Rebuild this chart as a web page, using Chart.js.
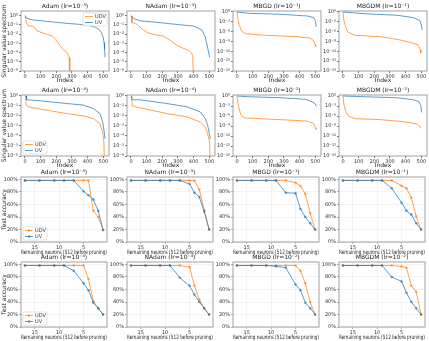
<!DOCTYPE html>
<html>
<head>
<meta charset="utf-8">
<script src="https://cdn.jsdelivr.net/npm/chart.js@4.4.0/dist/chart.umd.min.js"></script>
<style>
  body { margin: 0; background: #fff; width: 429px; height: 341px; position: relative; overflow: hidden; }
  canvas { position: absolute; }
</style>
</head>
<body>
<script>
// ---- data: singular value spectra, [index, value] ----
const indexTicks = [0, 100, 200, 300, 400, 500];
const adamTicks = [1, 1e-1, 1e-2, 1e-3, 1e-4, 1e-5, 1e-6];
const sgdTicks = [1, 1e-3, 1e-6, 1e-9, 1e-12, 1e-15, 1e-18];

const adam3UDV = [[0,1],[4,0.9],[7,0.2],[20,0.08],[55,0.07],[77,0.023],[110,0.014],[143,0.009],[176,0.006],[198,0.0025],[220,0.0007],[242,0.00022],[264,0.00012],[275,0.00006],[282,0.00003],[285,0.000015],[287,1e-7]];
const adam3UV = [[0,1],[10,0.55],[30,0.4],[60,0.33],[120,0.26],[200,0.19],[280,0.14],[360,0.11],[420,0.08],[450,0.055],[475,0.03],[490,0.012],[500,0.004],[505,0.0012],[508,2.5e-4],[511,3e-5]];
const nadam3UDV = [[0,1],[4,0.9],[6,0.18],[36,0.12],[79,0.028],[111,0.013],[164,0.008],[207,0.006],[250,0.0022],[293,0.0006],[335,0.00028],[368,0.00018],[389,0.00008],[395,0.00003],[398,1e-7]];
const nadam3UV = [[0,1],[15,0.5],[58,0.28],[150,0.2],[229,0.145],[320,0.1],[400,0.074],[453,0.028],[474,0.005],[489,0.0004],[502,3e-5]];
const mbgd1UDV = [[0,1],[6,8e-3],[15,8e-5],[31,1.3e-6],[52,2.5e-7],[177,8e-8],[385,3e-8],[469,1e-8],[490,1.6e-9],[500,1e-10],[503,3e-11]];
const mbgd1UV = [[0,1],[73,0.4],[281,0.2],[448,0.06],[490,0.02],[500,0.0025],[506,2.5e-5]];
const mbgdm1UDV = [[0,1],[6,2.5e-3],[17,2.5e-5],[31,8e-7],[73,8e-8],[240,3e-8],[365,3e-9],[448,3e-10],[479,1e-10],[494,3e-12],[497,3e-13]];
const mbgdm1UV = [[0,1],[135,0.3],[344,0.1],[448,0.02],[490,2.5e-3],[500,1e-4],[506,3e-6]];

const adam4UDV = [[0,1],[5,0.95],[7,0.12],[21,0.08],[96,0.047],[266,0.017],[372,0.01],[436,0.0054],[479,0.0017],[496,2.5e-4],[504,2.5e-5],[508,1e-7]];
const adam4UV = [[0,1],[8,0.95],[10,0.4],[96,0.32],[266,0.17],[372,0.12],[436,0.054],[479,0.017],[496,0.0025],[506,2.5e-4],[511,5e-5]];
const nadam4UDV = [[0,1],[4,0.95],[8,0.1],[58,0.063],[229,0.017],[357,0.008],[442,0.0025],[474,8e-4],[489,1.7e-4],[502,2.5e-5],[506,1e-7]];
const nadam4UV = [[0,1],[4,0.95],[8,0.4],[58,0.4],[229,0.17],[357,0.08],[442,0.025],[474,0.0054],[489,0.0013],[502,1.3e-4],[506,5e-5]];
const mbgd2UDV = [[0,1],[6,8e-3],[15,8e-5],[27,1.3e-6],[52,2.5e-7],[281,8e-8],[448,3e-8],[490,6e-9],[500,3e-10],[504,1e-10]];
const mbgd2UV = [[0,1],[73,0.6],[281,0.3],[440,0.1],[479,0.02],[500,0.0045],[506,8e-4]];
const mbgdm2UDV = [[0,1],[6,2.5e-3],[17,4e-5],[31,1.3e-6],[73,1.6e-7],[240,8e-8],[385,2e-8],[469,4e-9],[490,1e-9],[498,2e-10]];
const mbgdm2UV = [[0,1],[135,0.6],[344,0.3],[448,0.08],[485,0.02],[498,8e-4],[502,1.2e-5]];

// ---- data: pruning, test accuracy (%) vs remaining neurons ----
const neurons = [17, 14, 11, 9, 7, 5, 4, 3, 2, 1];
const neuronTicks = [15, 10, 5];
const accTicks = [0, 20, 40, 60, 80, 100];

const adam3AccUDV = [98.5, 98.5, 98.5, 98.5, 98.5, 98.5, 98.5, 50, 40, 20];
const adam3AccUV = [98.5, 98.5, 98.5, 98.5, 98.5, 81, 75, 68, 50, 19];
const nadam3AccUDV = [98.5, 98.5, 98.5, 98.5, 98.5, 98.5, 98, 84, 51, 20];
const nadam3AccUV = [98.5, 98.5, 98.5, 98.5, 98.5, 93, 79, 72, 49, 20];
const mbgd1AccUDV = [98.5, 98.5, 98.5, 98.5, 98.5, 95, 90, 77, 46, 20];
const mbgd1AccUV = [98.5, 98.5, 98.5, 98.5, 79, 78, 53, 40, 30, 20];
const mbgdm1AccUDV = [98.5, 98.5, 98.5, 98.5, 98.5, 90, 86, 71, 41, 20];
const mbgdm1AccUV = [98.5, 98.5, 98.5, 98.5, 86, 63, 50, 44, 30, 20];

const adam4AccUDV = [98.5, 98.5, 98.5, 98.5, 98.5, 98.5, 77, 41, 30, 20];
const adam4AccUV = [98.5, 98.5, 98.5, 98.5, 90, 70, 59, 39, 30, 20];
const nadam4AccUDV = [98.5, 98.5, 98.5, 98.5, 98.5, 96, 66, 44, 30, 20];
const nadam4AccUV = [98.5, 98.5, 98.5, 98.5, 79, 66, 52, 40, 30, 20];
const mbgd2AccUDV = [98.5, 98.5, 98.5, 98.5, 98.5, 98.5, 90, 70, 40, 20];
const mbgd2AccUV = [98.5, 98.5, 98.5, 97, 95, 68, 59, 39, 30, 20];
const mbgdm2AccUDV = [98.5, 98.5, 98.5, 98.5, 98.5, 97, 95, 66, 56, 20];
const mbgdm2AccUV = [98.5, 98.5, 98.5, 98.5, 80, 73, 55, 40, 30, 20];

// ---- look ----
const ORANGE = 'rgba(255,127,14,0.72)';
const BLUE = 'rgba(31,119,180,0.72)';
const FONT = 'DejaVu Sans';
const colLeft = [21, 127, 233, 339];
const rowTop = [11, 95, 177, 262];
const rowH = [60, 61, 65, 65];
const PLOT_W = 88, PAD_L = 21, PAD_R = 2, PAD_T = 10, PAD_B = 15;

const SUP = {'0':'⁰','1':'¹','2':'²','3':'³','4':'⁴','5':'⁵','6':'⁶','7':'⁷','8':'⁸','9':'⁹','-':'⁻'};
const sup = n => String(n).split('').map(c => SUP[c]).join('');
const pow10 = v => '10' + sup(Math.round(Math.log10(v)));

const pts = arr => arr.map(p => ({x: p[0], y: p[1]}));
const pair = (xs, ys) => xs.map((x, i) => ({x: x, y: ys[i]}));

// frame, title and in-axes legend, matplotlib style
const decor = {
  id: 'decor',
  afterDraw(chart, args, o) {
    const ctx = chart.ctx, a = chart.chartArea;
    ctx.save();
    ctx.strokeStyle = '#8a8a8a';
    ctx.lineWidth = 0.8;
    ctx.strokeRect(a.left, a.top, a.right - a.left, a.bottom - a.top);
    ctx.fillStyle = '#222';
    ctx.font = '6px ' + FONT;
    ctx.textAlign = 'center';
    ctx.textBaseline = 'bottom';
    ctx.fillText(o.title, (a.left + a.right) / 2, a.top - 2);
    if (o.legend) {
      const bw = 24, bh = 13;
      const bx = o.legend === 'ur' ? a.right - bw - 2 : a.left + 2;
      const by = o.legend === 'ur' ? a.top + 2 : a.bottom - bh - 2;
      ctx.fillStyle = 'rgba(255,255,255,0.85)';
      ctx.strokeStyle = '#d0d0d0';
      ctx.lineWidth = 0.6;
      ctx.beginPath();
      ctx.roundRect(bx, by, bw, bh, 1.5);
      ctx.fill();
      ctx.stroke();
      const items = [['UDV', ORANGE], ['UV', BLUE]];
      ctx.font = '5px ' + FONT;
      ctx.textAlign = 'left';
      ctx.textBaseline = 'middle';
      items.forEach((it, i) => {
        const y = by + 3.5 + i * 6;
        ctx.strokeStyle = it[1];
        ctx.lineWidth = 1;
        ctx.beginPath();
        ctx.moveTo(bx + 2, y);
        ctx.lineTo(bx + 10, y);
        ctx.stroke();
        if (o.markers) {
          ctx.fillStyle = it[1];
          ctx.beginPath();
          ctx.arc(bx + 6, y, 1.2, 0, Math.PI * 2);
          ctx.fill();
        }
        ctx.fillStyle = '#333';
        ctx.fillText(it[0], bx + 12, y + 0.3);
      });
    }
    ctx.restore();
  }
};

function panel(col, row, cfg) {
  const cv = document.createElement('canvas');
  const h = rowH[row];
  cv.width = PLOT_W + PAD_L + PAD_R;
  cv.height = h + PAD_T + PAD_B;
  cv.style.left = (colLeft[col] - PAD_L) + 'px';
  cv.style.top = (rowTop[row] - PAD_T) + 'px';
  document.body.appendChild(cv);

  const prune = cfg.kind === 'prune';
  const tickFont = {family: FONT, size: 5};
  const titleFont = {family: FONT, size: 6};
  const grid = prune
    ? {color: '#ebebeb', lineWidth: 0.6, tickColor: '#777', tickLength: 2}
    : {drawOnChartArea: false, tickColor: '#777', tickLength: 2};

  const xScale = prune ? {
    type: 'linear', reverse: true, min: 0.2, max: 17.8,
    afterBuildTicks: s => { s.ticks = neuronTicks.map(v => ({value: v})); },
    ticks: {font: tickFont, color: '#333', padding: 1, maxRotation: 0, autoSkip: false},
    title: {display: true, text: 'Remaining neurons (512 before pruning)', font: titleFont, color: '#222', padding: {top: 0, bottom: 1}}
  } : {
    type: 'linear', min: -25.5, max: 536.5,
    afterBuildTicks: s => { s.ticks = indexTicks.map(v => ({value: v})); },
    ticks: {font: tickFont, color: '#333', padding: 1, maxRotation: 0, autoSkip: false},
    title: {display: true, text: 'Index', font: titleFont, color: '#222', padding: {top: 0, bottom: 2}}
  };
  xScale.grid = grid;
  xScale.border = {display: false};
  xScale.afterFit = s => { s.height = PAD_B; };

  const yScale = prune ? {
    type: 'linear', min: 0, max: 104,
    afterBuildTicks: s => { s.ticks = accTicks.map(v => ({value: v})); },
    ticks: {font: tickFont, color: '#333', padding: 1, autoSkip: false, callback: v => v + '%'}
  } : {
    type: 'logarithmic', min: cfg.ymin, max: cfg.ymax,
    afterBuildTicks: s => { s.ticks = cfg.yticks.map(v => ({value: v})); },
    ticks: {font: tickFont, color: '#333', padding: 1, autoSkip: false, callback: v => pow10(v)}
  };
  yScale.grid = grid;
  yScale.border = {display: false};
  yScale.afterFit = s => { s.width = PAD_L; };
  if (col === 0) {
    yScale.title = {display: true, text: prune ? 'Test accuracy' : 'Singular value spectrum', font: titleFont, color: '#222', padding: {top: 1, bottom: 0}};
  }

  const ds = (label, data, color, order) => ({
    label: label, data: data, borderColor: color, backgroundColor: color,
    borderWidth: 1, tension: 0, order: order,
    pointRadius: prune ? 1.2 : 0, pointBorderWidth: 0, pointBackgroundColor: color
  });

  new Chart(cv, {
    type: 'line',
    data: {datasets: [ds('UDV', cfg.udv, ORANGE, 1), ds('UV', cfg.uv, BLUE, 0)]},
    options: {
      responsive: false, animation: false, events: [],
      layout: {padding: {top: PAD_T, right: PAD_R, left: 0, bottom: 0}},
      scales: {x: xScale, y: yScale},
      plugins: {
        legend: {display: false}, tooltip: {enabled: false}, title: {display: false},
        decor: {title: cfg.title, legend: cfg.legend, markers: prune}
      }
    },
    plugins: [decor]
  });
}

const lr = (name, e) => name + ' (lr=10' + sup(e) + ')';

panel(0, 0, {title: lr('Adam', -3), udv: pts(adam3UDV), uv: pts(adam3UV), ymin: 1e-6, ymax: 3.2, yticks: adamTicks, legend: 'ur'});
panel(1, 0, {title: lr('NAdam', -3), udv: pts(nadam3UDV), uv: pts(nadam3UV), ymin: 1e-6, ymax: 3.2, yticks: adamTicks});
panel(2, 0, {title: lr('MBGD', -1), udv: pts(mbgd1UDV), uv: pts(mbgd1UV), ymin: 1e-18, ymax: 2, yticks: sgdTicks});
panel(3, 0, {title: lr('MBGDM', -1), udv: pts(mbgdm1UDV), uv: pts(mbgdm1UV), ymin: 1e-18, ymax: 2, yticks: sgdTicks});

panel(0, 1, {title: lr('Adam', -4), udv: pts(adam4UDV), uv: pts(adam4UV), ymin: 1e-6, ymax: 1.2, yticks: adamTicks, legend: 'll'});
panel(1, 1, {title: lr('NAdam', -4), udv: pts(nadam4UDV), uv: pts(nadam4UV), ymin: 1e-6, ymax: 1.2, yticks: adamTicks});
panel(2, 1, {title: lr('MBGD', -2), udv: pts(mbgd2UDV), uv: pts(mbgd2UV), ymin: 1e-18, ymax: 2, yticks: sgdTicks});
panel(3, 1, {title: lr('MBGDM', -2), udv: pts(mbgdm2UDV), uv: pts(mbgdm2UV), ymin: 1e-18, ymax: 2, yticks: sgdTicks});

panel(0, 2, {kind: 'prune', title: lr('Adam', -3), udv: pair(neurons, adam3AccUDV), uv: pair(neurons, adam3AccUV), legend: 'll'});
panel(1, 2, {kind: 'prune', title: lr('NAdam', -3), udv: pair(neurons, nadam3AccUDV), uv: pair(neurons, nadam3AccUV)});
panel(2, 2, {kind: 'prune', title: lr('MBGD', -1), udv: pair(neurons, mbgd1AccUDV), uv: pair(neurons, mbgd1AccUV)});
panel(3, 2, {kind: 'prune', title: lr('MBGDM', -1), udv: pair(neurons, mbgdm1AccUDV), uv: pair(neurons, mbgdm1AccUV)});

panel(0, 3, {kind: 'prune', title: lr('Adam', -4), udv: pair(neurons, adam4AccUDV), uv: pair(neurons, adam4AccUV), legend: 'll'});
panel(1, 3, {kind: 'prune', title: lr('NAdam', -4), udv: pair(neurons, nadam4AccUDV), uv: pair(neurons, nadam4AccUV)});
panel(2, 3, {kind: 'prune', title: lr('MBGD', -2), udv: pair(neurons, mbgd2AccUDV), uv: pair(neurons, mbgd2AccUV)});
panel(3, 3, {kind: 'prune', title: lr('MBGDM', -2), udv: pair(neurons, mbgdm2AccUDV), uv: pair(neurons, mbgdm2AccUV)});
</script>
</body>
</html>
